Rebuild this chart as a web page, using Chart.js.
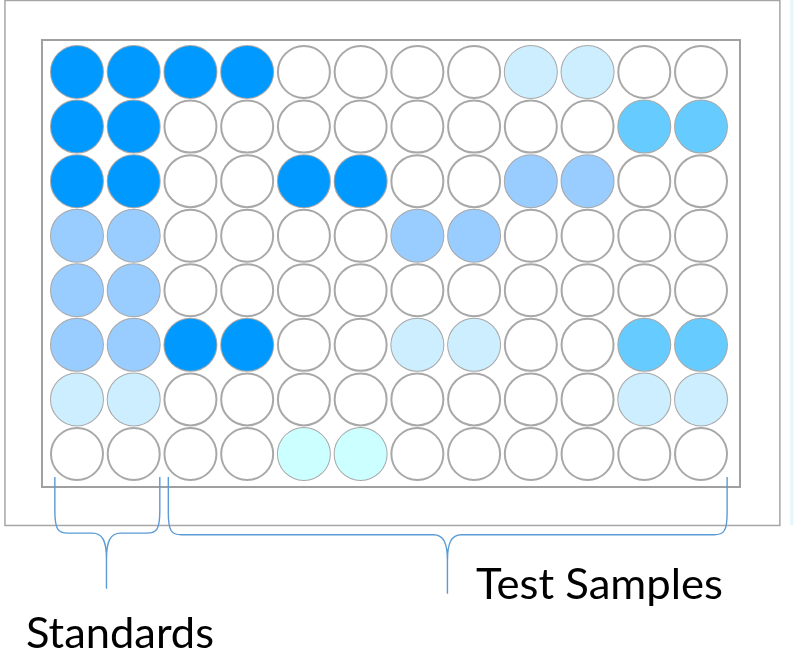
<!DOCTYPE html>
<html>
<head>
<meta charset="utf-8">
<script src="https://cdn.jsdelivr.net/npm/chart.js@4.4.1/dist/chart.umd.min.js"></script>
<style>
  body { margin: 0; background: #fff; }
  #plate { display: block; }
</style>
</head>
<body>
<canvas id="plate" width="794" height="663"></canvas>
<script>
// 96-well plate layout, columns 1..12, rows A..H
const columns = [1, 2, 3, 4, 5, 6, 7, 8, 9, 10, 11, 12];
const rowLabels = ['A', 'B', 'C', 'D', 'E', 'F', 'G', 'H'];

// intensity level per well (0 = empty, 5 = darkest)
const wellLevels = [
  [5, 5, 5, 5, 0, 0, 0, 0, 2, 2, 0, 0],
  [5, 5, 0, 0, 0, 0, 0, 0, 0, 0, 4, 4],
  [5, 5, 0, 0, 5, 5, 0, 0, 3, 3, 0, 0],
  [3, 3, 0, 0, 0, 0, 3, 3, 0, 0, 0, 0],
  [3, 3, 0, 0, 0, 0, 0, 0, 0, 0, 0, 0],
  [3, 3, 5, 5, 0, 0, 2, 2, 0, 0, 4, 4],
  [2, 2, 0, 0, 0, 0, 0, 0, 0, 0, 2, 2],
  [0, 0, 0, 0, 1, 1, 0, 0, 0, 0, 0, 0]
];
const levelColors = ['#ffffff', '#ccffff', '#cceeff', '#99ccff', '#66ccff', '#0099ff'];

// groups marked by braces under the plate (column ranges)
const groupNames = ['Standards', 'Test Samples'];
const groupStart = [1, 3];
const groupEnd = [2, 12];

const ringPoints = [];
const fillData = levelColors.map(() => []);
rowLabels.forEach((r, ri) => {
  columns.forEach((c, ci) => {
    ringPoints.push({ x: c, y: ri + 1 });
    const lvl = wellLevels[ri][ci];
    if (lvl > 0) fillData[lvl].push({ x: c, y: ri + 1 });
  });
});

const datasets = [{
  label: 'wells',
  data: ringPoints,
  pointRadius: 26,
  pointBackgroundColor: '#ffffff',
  pointBorderColor: '#a8a8a8',
  pointBorderWidth: 2,
  order: 5
}];
fillData.forEach((pts, lvl) => {
  if (lvl === 0) return;
  datasets.push({
    label: 'level ' + lvl,
    data: pts,
    pointRadius: 26,
    pointBackgroundColor: levelColors[lvl],
    pointBorderWidth: 0,
    order: 1
  });
});

function brace(ctx, x1, x2, xm, yTop, yBar, yTip) {
  ctx.beginPath();
  ctx.moveTo(x1, yTop);
  ctx.lineTo(x1, yBar - 22);
  ctx.bezierCurveTo(x1, yBar - 4, x1 + 3, yBar, x1 + 13, yBar);
  ctx.lineTo(xm - 14, yBar);
  ctx.bezierCurveTo(xm - 4, yBar, xm, yBar + 8, xm, yBar + 26);
  ctx.lineTo(xm, yTip);
  ctx.moveTo(xm, yBar + 26);
  ctx.bezierCurveTo(xm, yBar + 8, xm + 4, yBar, xm + 14, yBar);
  ctx.lineTo(x2 - 13, yBar);
  ctx.bezierCurveTo(x2 - 3, yBar, x2, yBar - 4, x2, yBar - 22);
  ctx.lineTo(x2, yTop);
  ctx.stroke();
}

function fitText(ctx, text, left, baseline, width) {
  const w = ctx.measureText(text).width;
  ctx.save();
  ctx.translate(left, baseline);
  ctx.scale(width / w, 1);
  ctx.fillText(text, 0, 0);
  ctx.restore();
}

const plateFrame = {
  id: 'plateFrame',
  beforeDatasetsDraw(chart) {
    const { ctx, scales: { x, y } } = chart;
    ctx.save();
    // outer box
    ctx.strokeStyle = '#a6a6a6';
    ctx.lineWidth = 1.5;
    ctx.strokeRect(x.getPixelForValue(-0.27), y.getPixelForValue(-0.31),
      x.getPixelForValue(13.39) - x.getPixelForValue(-0.27),
      y.getPixelForValue(9.31) - y.getPixelForValue(-0.31));
    // plate
    ctx.strokeStyle = '#a0a0a0';
    ctx.lineWidth = 2;
    ctx.strokeRect(x.getPixelForValue(0.383), y.getPixelForValue(0.414),
      x.getPixelForValue(12.687) - x.getPixelForValue(0.383),
      y.getPixelForValue(8.605) - y.getPixelForValue(0.414));
    // faint line at the right edge
    ctx.strokeStyle = '#e2f6fb';
    ctx.lineWidth = 3;
    ctx.beginPath();
    ctx.moveTo(x.getPixelForValue(13.6), 0);
    ctx.lineTo(x.getPixelForValue(13.6), y.getPixelForValue(9.3));
    ctx.stroke();
    ctx.restore();
  },
  afterDatasetsDraw(chart) {
    const { ctx, scales: { x, y } } = chart;
    ctx.save();
    ctx.strokeStyle = '#5b9bd5';
    ctx.lineWidth = 1.4;
    const yTop = y.getPixelForValue(8.42);
    groupNames.forEach((name, i) => {
      const x1 = x.getPixelForValue(groupStart[i] - 0.39);
      const x2 = x.getPixelForValue(groupEnd[i] + 0.46);
      const xm = x.getPixelForValue((groupStart[i] + groupEnd[i]) / 2 + (i === 0 ? 0.02 : 0.03));
      const yBar = y.getPixelForValue(i === 0 ? 9.45 : 9.48);
      const yTip = y.getPixelForValue(i === 0 ? 10.47 : 10.56);
      brace(ctx, x1, x2, xm, yTop, yBar, yTip);
    });
    ctx.fillStyle = '#000';
    ctx.font = '42px Lato, "Open Sans", sans-serif';
    ctx.textBaseline = 'alphabetic';
    fitText(ctx, groupNames[1], 476, 599, 247);
    fitText(ctx, groupNames[0], 26, 648, 188);
    ctx.restore();
  }
};

new Chart(document.getElementById('plate'), {
  type: 'scatter',
  data: { datasets },
  options: {
    responsive: false,
    devicePixelRatio: 1,
    animation: false,
    layout: { padding: 0, autoPadding: false },
    scales: {
      x: { display: false, min: -0.357, max: 13.639 },
      y: { display: false, reverse: true, min: -0.319, max: 11.83 }
    },
    plugins: { legend: { display: false }, tooltip: { enabled: false } }
  },
  plugins: [plateFrame]
});
</script>
</body>
</html>
